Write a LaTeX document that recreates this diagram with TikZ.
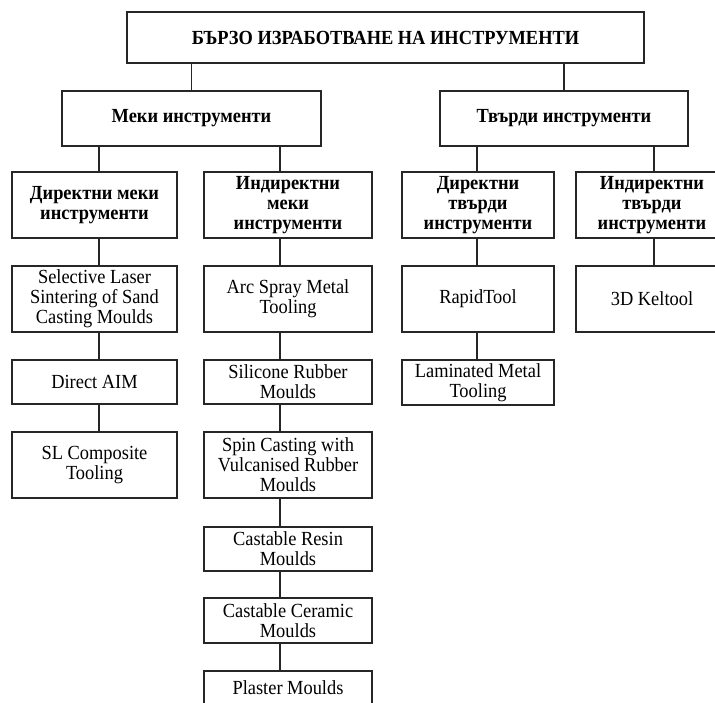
\documentclass[tikz,border=0pt]{standalone}
\usepackage{fontspec}
\setmainfont{Liberation Serif}[FakeStretch=0.92]
\usepackage{tikz}
\usetikzlibrary{positioning,calc}

\tikzset{
    box/.style={draw=black!85, line width=1.3pt, align=center, inner sep=0pt,
        font=\fontsize{20}{20}\selectfont},
    head/.style={box, font=\fontsize{20}{20}\selectfont\bfseries},
    link/.style={draw=black!85, line width=1.3pt}
}

\begin{document}
\begin{tikzpicture}[x=1pt, y=-1pt]
    \clip (0,0) rectangle (715,702);
    \fill[white] (0,0) rectangle (715,702);

    % Top level
    \node[head, minimum width=517pt, minimum height=51pt] (top) at (385.5,37.5) {БЪРЗО ИЗРАБОТВАНЕ НА ИНСТРУМЕНТИ};
    \node[head, minimum width=259pt, minimum height=55pt] (meki) at (191.5,118.5) {Меки инструменти};
    \node[head, minimum width=248pt, minimum height=55pt] (tvardi) at (564,118.5) {Твърди инструменти};

    % Column lines
    \coordinate (c1) at (99,0);
    \coordinate (c2) at (280,0);
    \coordinate (c3) at (477,0);
    \coordinate (c4) at (654,0);

    % Third level
    \node[head, minimum width=165pt, minimum height=66pt] (dm) at (94.5,205) {Директни меки\\инструменти};
    \node[head, minimum width=168pt, minimum height=66pt] (im) at (288,205) {Индиректни\\меки\\инструменти};
    \node[head, minimum width=152pt, minimum height=66pt] (dt) at (478,205) {Директни\\твърди\\инструменти};
    \node[head, minimum width=152pt, minimum height=66pt] (it) at (652,205) {Индиректни\\твърди\\инструменти};

    % Direct soft tools
    \node[box, minimum width=165pt, minimum height=66pt] (sls) at (94.5,299) {Selective Laser\\Sintering of Sand\\Casting Moulds};
    \node[box, minimum width=165pt, minimum height=44pt] (aim) at (94.5,382) {Direct AIM};
    \node[box, minimum width=165pt, minimum height=66pt] (slc) at (94.5,465) {SL Composite\\Tooling};

    % Indirect soft tools
    \node[box, minimum width=168pt, minimum height=66pt] (arc) at (288,299) {Arc Spray Metal\\Tooling};
    \node[box, minimum width=168pt, minimum height=44pt] (sil) at (288,382) {Silicone Rubber\\Moulds};
    \node[box, minimum width=168pt, minimum height=66pt] (spin) at (288,465) {Spin Casting with\\Vulcanised Rubber\\Moulds};
    \node[box, minimum width=168pt, minimum height=44pt] (resin) at (288,549) {Castable Resin\\Moulds};
    \node[box, minimum width=168pt, minimum height=45pt] (ceram) at (288,620.5) {Castable Ceramic\\Moulds};
    \node[box, minimum width=168pt, minimum height=34pt] (plaster) at (288,688) {Plaster Moulds};

    % Hard tools
    \node[box, minimum width=152pt, minimum height=66pt] (rapid) at (478,299) {RapidTool};
    \node[box, minimum width=152pt, minimum height=45pt] (lam) at (478,382.5) {Laminated Metal\\Tooling};
    \node[box, minimum width=152pt, minimum height=66pt] (kel) at (652,299) {3D Keltool};

    % Connectors
    \draw[link] (meki.north) -- (meki.north |- top.south);
    \draw[link] (tvardi.north) -- (tvardi.north |- top.south);
    \draw[link] (c1 |- meki.south) -- (c1 |- dm.north);
    \draw[link] (c2 |- meki.south) -- (c2 |- im.north);
    \draw[link] (c3 |- tvardi.south) -- (c3 |- dt.north);
    \draw[link] (c4 |- tvardi.south) -- (c4 |- it.north);
    \foreach \a/\b in {dm/sls, sls/aim, aim/slc}
        \draw[link] (c1 |- \a.south) -- (c1 |- \b.north);
    \foreach \a/\b in {im/arc, arc/sil, sil/spin, spin/resin, resin/ceram, ceram/plaster}
        \draw[link] (c2 |- \a.south) -- (c2 |- \b.north);
    \foreach \a/\b in {dt/rapid, rapid/lam}
        \draw[link] (c3 |- \a.south) -- (c3 |- \b.north);
    \draw[link] (c4 |- it.south) -- (c4 |- kel.north);
\end{tikzpicture}
\end{document}
